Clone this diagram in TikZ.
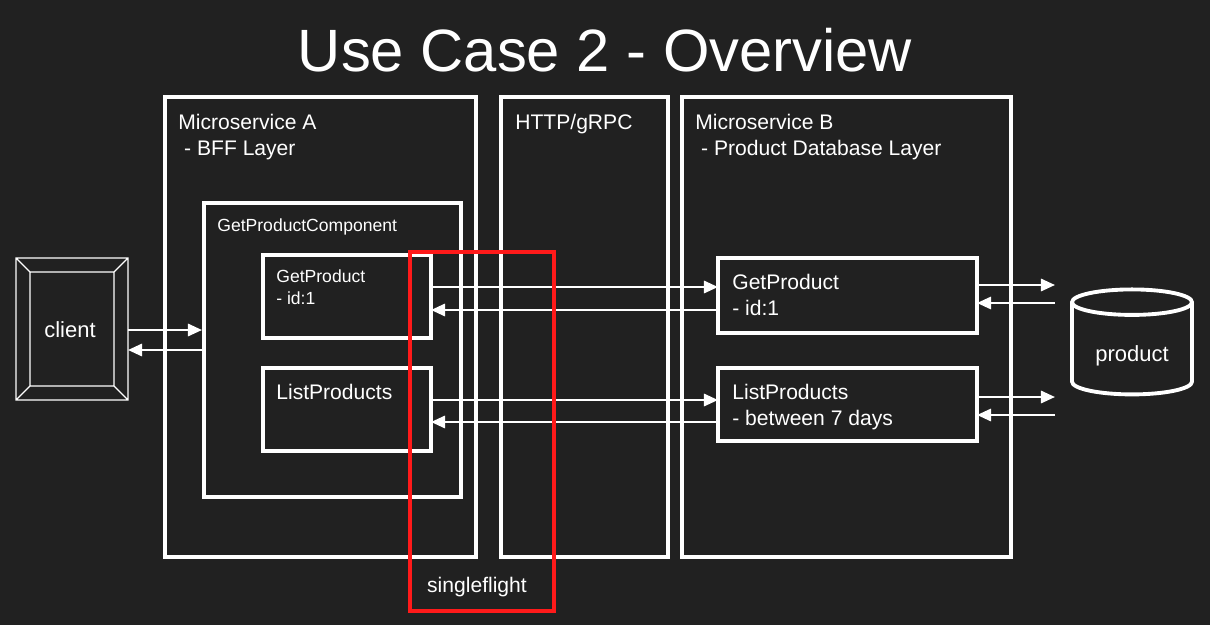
\documentclass[tikz,border=0pt]{standalone}
\usepackage{fontspec}
\setmainfont{Liberation Sans}
\usetikzlibrary{positioning,calc,shapes.geometric,arrows.meta}
\definecolor{bg}{HTML}{212121}
\definecolor{sfred}{HTML}{FF1A1A}

\begin{document}
\begin{tikzpicture}[x=0.02cm,y=-0.02cm]

\tikzset{box/.style={draw=white,line width=2.2pt,inner sep=0pt},
txt/.style={text=white,font=\fontsize{12}{14.5}\selectfont,align=left,anchor=north west,inner sep=0pt},
small/.style={txt,font=\fontsize{10}{12.5}\selectfont},
flow/.style={draw=white,line width=1.3pt,-{Triangle[length=8pt,width=7pt]}}}

% background
\fill[bg] (0,0) rectangle (1210,625);
\useasboundingbox (0,0) rectangle (1210,625);

\node[text=white,font=\fontsize{34}{40}\selectfont] (title) at (605,50) {Use Case 2 - Overview};

% layers
\draw[box] (165,97) rectangle (476,557);
\draw[box] (501,97) rectangle (668,557);
\draw[box] (682,97) rectangle (1011,557);
\node[txt] (msA) at (178,114) {Microservice A\\ \ - BFF Layer};
\node[txt] (http) at (515,114) {HTTP/gRPC};
\node[txt] (msB) at (695,114) {Microservice B\\ \ - Product Database Layer};

% component
\draw[box] (204,203) rectangle (461,497);
\node[small] (comp) at (217,218) {GetProductComponent};
\draw[box] (263,255) rectangle (431,338);
\coordinate (gpA) at (431,298);
\node[small] (gpAtxt) at (276,269) {GetProduct\\- id:1};
\draw[box] (263,368) rectangle (431,451);
\coordinate (lpA) at (431,410);
\node[txt] (lpAtxt) at (276,384) {ListProducts};

% microservice B
\draw[box] (718,258) rectangle (977,333);
\coordinate (gpB) at (718,298);
\coordinate (gpBr) at (977,294);
\node[txt] (gpBtxt) at (732,274) {GetProduct\\- id:1};
\draw[box] (718,368) rectangle (977,441);
\coordinate (lpB) at (718,410);
\coordinate (lpBr) at (977,406);
\node[txt] (lpBtxt) at (732,384) {ListProducts\\- between 7 days};

% client
\draw[white,line width=0.8pt] (16,258) rectangle (128,400) (30,272) rectangle (114,386)
  (16,258) -- (30,272) (128,258) -- (114,272) (16,400) -- (30,386) (128,400) -- (114,386);
\node[text=white,font=\fontsize{12.5}{15}\selectfont] (client) at (70,330) {client};
\coordinate (cl) at (128,340);
\coordinate (comp) at (202,340);

% database
\node[cylinder,shape border rotate=90,draw=white,line width=2.2pt,minimum width=2.4cm,minimum height=2.1cm,aspect=0.3,text=white,font=\fontsize{12.5}{15}\selectfont] (db) at (1132,352) {\raisebox{-2ex}{product}};
\coordinate (dbl) at (1055,294);
\coordinate (dbl2) at (1055,406);

% flows
\draw[flow] ([yshift=0.2cm]cl) -- ([yshift=0.2cm]comp);
\draw[flow] ([yshift=-0.2cm]comp) -- ([yshift=-0.2cm]cl);
\draw[flow] ([yshift=0.22cm]gpA) -- ([yshift=0.22cm]gpB);
\draw[flow] ([yshift=-0.24cm]gpB) -- ([yshift=-0.24cm]gpA);
\draw[flow] ([yshift=0.2cm]lpA) -- ([yshift=0.2cm]lpB);
\draw[flow] ([yshift=-0.24cm]lpB) -- ([yshift=-0.24cm]lpA);
\draw[flow] ([yshift=0.18cm]gpBr) -- ([yshift=0.18cm]dbl);
\draw[flow] ([yshift=-0.18cm]dbl) -- ([yshift=-0.18cm]gpBr);
\draw[flow] ([yshift=0.18cm]lpBr) -- ([yshift=0.18cm]dbl2);
\draw[flow] ([yshift=-0.18cm]dbl2) -- ([yshift=-0.18cm]lpBr);

% singleflight
\draw[sfred,line width=2.2pt] (410,252) rectangle (554,611);
\node[text=white,font=\fontsize{12}{14.5}\selectfont] (sf) at (477,587) {singleflight};

\end{tikzpicture}
\end{document}
